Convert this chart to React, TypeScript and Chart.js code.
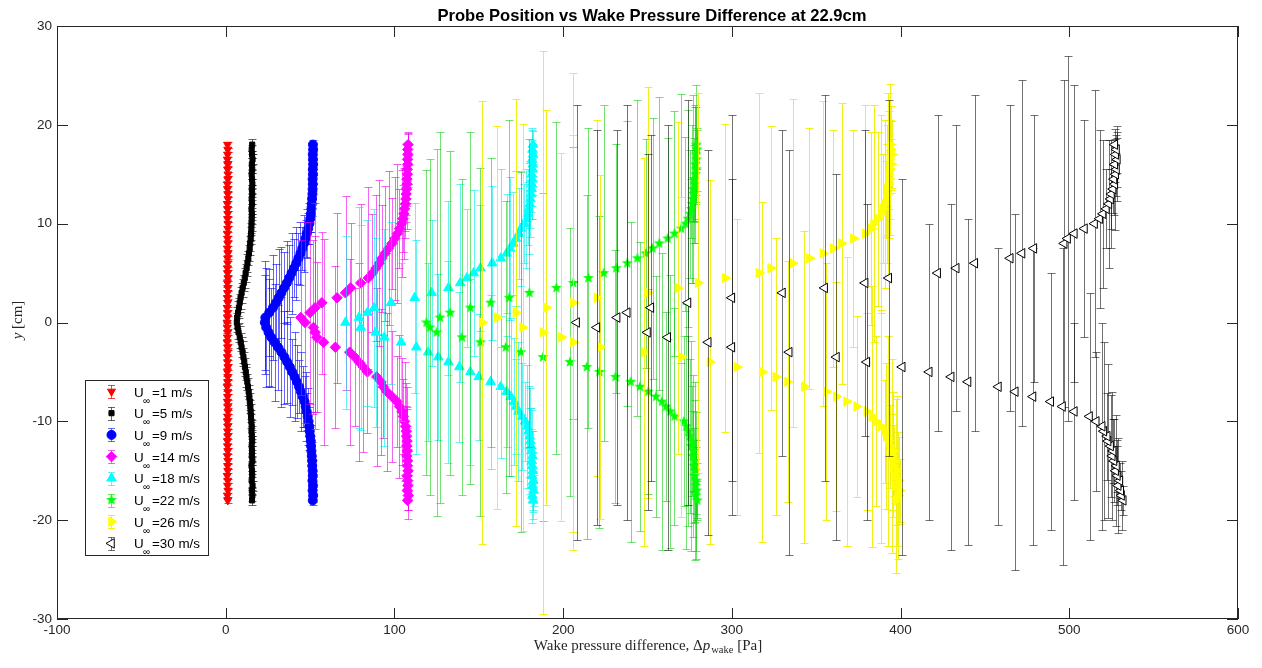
import React, { useEffect, useRef } from 'react';
import { Chart, registerables } from 'chart.js';
import { drawPoint } from 'chart.js/helpers';

Chart.register(...registerables);

// ---------------- DATA ----------------
const TITLE = 'Probe Position vs Wake Pressure Difference at 22.9cm';
const X_TICKS = [-100, 0, 100, 200, 300, 400, 500, 600];
const Y_TICKS = [-30, -20, -10, 0, 10, 20, 30];
const SPEEDS = ['1', '5', '9', '14', '18', '22', '26', '30'];

// probe positions y [cm]
const Y_POS = [
  -18, -17.5, -17, -16.5, -16, -15.5, -15, -14.5, -14, -13.5, -13, -12.5, -12, -11.5, -11,
  -10.5, -10, -9.5, -9, -8.5, -8, -7.5, -7, -6.5, -6,
  -5.5, -5, -4.5, -4, -3.5, -3, -2.5, -2, -1.5, -1,
  -0.5, 0, 0.5, 1, 1.5, 2, 2.5, 3, 3.5, 4,
  4.5, 5, 5.5, 6, 6.5, 7, 7.5, 8, 8.5, 9,
  9.5, 10, 10.5,
  11, 11.5, 12, 12.5, 13, 13.5, 14, 14.5, 15, 15.5, 16, 16.5, 17, 17.5, 18,
];

// wake pressure difference [Pa] per speed
const DP_1 = [
  1.2, 1.0, 1.3, 1.1, 1.2, 0.9, 1.2, 1.1, 1.3, 1.0, 1.2, 1.1, 1.0, 1.2, 1.1,
  1.2, 1.0, 1.1, 1.3, 1.2, 1.0, 1.1, 1.2, 0.9, 1.1,
  1.2, 1.0, 1.3, 1.1, 1.0, 1.2, 1.1, 0.9, 1.0, 1.1,
  0.9, 0.8, 1.0, 1.1, 0.9, 1.2, 1.0, 1.1, 1.2, 1.0,
  1.3, 1.1, 1.0, 1.2, 1.1, 1.3, 1.0, 1.2, 1.1, 1.0,
  1.2, 1.3, 1.1,
  1.2, 1.1, 1.0, 1.3, 1.2, 1.1, 1.0, 1.2, 1.3, 1.1, 1.2, 1.0, 1.1, 1.2, 1.1,
];
const DP_5 = [
  15.6, 15.8, 15.5, 15.9, 15.4, 15.7, 15.6, 15.3, 15.8, 15.5, 15.6, 15.4, 15.7, 15.5, 15.3,
  15.4, 15.2, 15.0, 14.8, 14.6, 14.3, 14.0, 13.6, 13.2, 12.8,
  12.3, 11.9, 11.4, 11.0, 10.5, 10.0, 9.4, 8.9, 8.3, 7.6,
  7.0, 6.6, 6.8, 7.3, 7.8, 8.3, 8.8, 9.4, 10.0, 10.7,
  11.3, 11.8, 12.4, 12.9, 13.4, 13.8, 14.2, 14.5, 14.8, 15.0,
  15.2, 15.3, 15.4,
  15.5, 15.3, 15.6, 15.4, 15.7, 15.5, 15.8, 15.6, 15.4, 15.7, 15.5, 15.9, 15.6, 15.4, 15.7,
];
const DP_9 = [
  51.6, 51.8, 51.5, 51.7, 51.4, 51.6, 51.5, 51.3, 51.2, 51.0, 50.8, 50.6, 50.4, 50.1, 49.8,
  49.5, 49.1, 48.6, 48.0, 47.4, 46.7, 45.6, 44.6, 43.5, 42.2,
  40.8, 39.4, 38.0, 36.4, 34.8, 33.0, 31.0, 29.0, 27.0, 25.4,
  24.0, 23.2, 23.5, 25.8, 28.0, 29.8, 31.4, 33.0, 34.6, 36.2,
  37.6, 39.0, 40.4, 41.8, 43.1, 44.3, 45.4, 46.4, 47.3, 48.1,
  48.9, 49.6, 50.1,
  50.5, 50.8, 51.0, 51.2, 51.4, 51.5, 51.6, 51.5, 51.7, 51.6, 51.8, 51.7, 51.6, 51.8, 51.7,
];
const DP_14 = [
  107.8, 108.2, 107.6, 108.0, 107.9, 107.5, 108.1, 107.7, 107.8, 107.4, 107.6, 107.3, 107.5, 107.2, 107.0,
  106.6, 106.0, 105.3, 104.5, 103.0, 101.5, 98.6, 95.5, 93.4, 92.0,
  89.5, 84.0, 81.5, 79.0, 76.5, 73.5, 65.0, 58.0, 54.0, 53.0,
  52.0, 47.0, 44.5, 50.0, 53.0, 57.0, 66.0, 71.0, 74.0, 80.0,
  84.5, 87.0, 89.0, 91.0, 92.5, 94.5, 96.5, 98.5, 100.2, 101.8,
  103.0, 104.2, 105.0,
  105.6, 106.0, 106.5, 106.8, 107.0, 107.2, 107.5, 107.4, 107.7, 107.6, 107.9, 107.8, 108.0, 107.9, 108.1,
];
const DP_18 = [
  182.2, 181.8, 182.5, 181.9, 182.3, 181.6, 182.0, 181.7, 181.4, 181.8, 181.2, 181.0, 180.6, 180.2, 179.5,
  178.6, 177.5, 175.8, 173.5, 172.0, 171.0, 169.0, 166.5, 163.0, 157.0,
  150.0, 145.0, 138.5, 132.0, 126.0, 120.0, 113.0, 104.0, 94.0, 89.0,
  80.0, 71.0, 79.0, 84.0, 88.0, 98.0, 112.0, 122.0, 132.0, 139.0,
  143.0, 147.0, 151.0, 158.0, 163.0, 166.5, 168.5, 170.5, 172.0, 173.8,
  175.0, 177.0, 178.2,
  179.0, 179.6, 180.2, 180.6, 181.0, 181.3, 181.5, 181.7, 181.4, 181.9, 182.0, 181.6, 182.2, 181.8, 182.1,
];
const DP_22 = [
  279.5, 278.8, 279.2, 278.5, 279.0, 277.8, 278.3, 277.5, 277.9, 276.8, 277.2, 275.9, 276.3, 275.0, 274.2,
  273.0, 271.5, 266.0, 263.5, 261.0, 258.5, 255.0, 250.5, 245.5, 240.0,
  231.0, 221.5, 214.0, 204.0, 188.0, 175.0, 166.0, 151.0, 140.0, 125.0,
  121.0, 119.0, 127.0, 133.0, 145.0, 157.0, 168.0, 180.0, 196.0, 206.0,
  215.0, 224.0, 231.5, 238.0, 244.0, 249.0, 253.0, 257.0, 262.0, 266.0,
  270.0, 272.5, 274.0,
  275.2, 275.9, 276.5, 276.8, 277.4, 277.1, 278.0, 277.6, 278.4, 278.9, 278.2, 279.1, 278.7, 279.4, 279.0,
];
const DP_26 = [
  397.5, 398.5, 399.5, 397.0, 398.8, 396.5, 397.8, 395.5, 396.2, 394.8, 395.5, 393.5, 392.8, 391.5, 390.5,
  388.5, 385.5, 383.0, 380.0, 374.0, 368.0, 362.0, 356.0, 343.0, 333.0,
  326.0, 318.0, 303.0, 287.0, 270.0, 248.0, 222.0, 206.0, 199.0, 188.0,
  176.0, 152.0, 161.0, 172.0, 190.0, 206.0, 220.0, 250.0, 268.0, 280.0,
  296.0, 316.0, 323.0, 336.0, 346.0, 354.0, 360.0, 365.0, 372.0, 379.0,
  382.5, 384.0, 386.5,
  388.5, 389.8, 390.6, 391.5, 392.2, 391.8, 392.8, 393.4, 392.9, 393.8, 394.5, 393.6, 394.9, 394.2, 393.8,
];
const DP_30 = [
  532.0, 531.0, 530.5, 529.0, 530.0, 528.5, 527.5, 528.0, 526.5, 525.5, 526.0, 524.5, 523.0, 522.5, 520.5,
  519.5, 516.0, 512.0, 503.0, 496.0, 489.0, 478.5, 468.0, 458.0, 440.0,
  430.0, 417.0, 401.0, 380.0, 362.0, 334.0, 300.0, 286.0, 262.0, 250.0,
  220.0, 208.0, 232.0, 238.0, 252.0, 274.0, 300.0, 330.0, 355.0, 379.0,
  393.0, 422.0, 433.0, 444.0, 465.0, 472.0, 479.0, 497.0, 499.0, 503.0,
  509.0, 515.0, 518.0,
  520.0, 522.0, 523.5, 524.5, 525.0, 526.0, 527.0, 526.5, 527.5, 528.0, 527.0, 528.5, 527.5, 528.0, 527.0,
];

// error bar half-lengths in y [cm]
const ERR_1 = [
  0.3, 0.2, 0.3, 0.3, 0.2, 0.3, 0.2, 0.3, 0.3, 0.2, 0.3, 0.2, 0.3, 0.3, 0.2,
  0.3, 0.3, 0.2, 0.3, 0.4, 0.3, 0.3, 0.2, 0.4, 0.3,
  0.3, 0.4, 0.3, 0.2, 0.3, 0.4, 0.3, 0.3, 0.4, 0.3,
  0.4, 0.3, 0.4, 0.3, 0.3, 0.4, 0.2, 0.3, 0.3, 0.4,
  0.3, 0.3, 0.2, 0.4, 0.3, 0.3, 0.2, 0.3, 0.3, 0.2,
  0.3, 0.2, 0.3,
  0.3, 0.2, 0.3, 0.2, 0.3, 0.3, 0.2, 0.3, 0.2, 0.3, 0.3, 0.2, 0.3, 0.2, 0.3,
];
const ERR_5 = [
  0.5, 0.6, 0.4, 0.5, 0.7, 0.5, 0.6, 0.5, 0.4, 0.6, 0.5, 0.7, 0.5, 0.6, 0.5,
  0.6, 0.7, 0.6, 0.8, 0.7, 0.9, 0.8, 0.7, 0.9, 0.8,
  1.0, 0.8, 0.9, 1.0, 0.9, 1.1, 1.0, 0.9, 1.1, 1.0,
  1.2, 1.0, 1.1, 1.2, 1.0, 0.9, 1.1, 1.0, 0.9, 0.8,
  1.0, 0.9, 0.8, 0.9, 0.7, 0.8, 0.7, 0.8, 0.6, 0.7,
  0.6, 0.7, 0.5,
  0.6, 0.5, 0.7, 0.5, 0.6, 0.4, 0.5, 0.6, 0.5, 0.4, 0.6, 0.5, 0.4, 0.5, 0.6,
];
const ERR_9 = [
  0.5, 0.7, 0.4, 0.9, 0.6, 0.5, 1.1, 0.7, 0.5, 1.4, 0.8, 1.0, 1.6, 0.9, 1.9,
  2.4, 1.5, 2.9, 1.9, 3.5, 2.6, 3.1, 4.0, 2.7, 3.7,
  4.5, 3.3, 5.1, 4.1, 4.7, 5.6, 4.3, 5.9, 5.0, 5.4,
  6.0, 4.8, 5.7, 4.4, 5.3, 3.9, 4.9, 4.6, 3.6, 4.2,
  3.3, 4.1, 2.9, 3.7, 2.6, 3.2, 2.2, 2.9, 1.9, 2.5,
  1.6, 2.1, 1.3,
  1.8, 0.6, 1.2, 0.9, 0.5, 1.4, 0.7, 0.4, 1.0, 0.6, 0.5, 0.8, 0.4, 0.6, 0.5,
];
const ERR_14 = [
  1.0, 2.4, 0.8, 1.6, 3.0, 1.2, 2.2, 3.6, 1.5, 2.8, 4.2, 2.0, 3.4, 5.0, 2.6,
  4.4, 6.0, 3.8, 5.4, 7.2, 4.6, 6.6, 8.0, 5.2, 7.4,
  9.0, 6.2, 8.6, 10.0, 7.0, 9.4, 8.2, 10.4, 7.6, 9.8,
  8.8, 10.2, 7.8, 9.2, 10.6, 7.2, 8.6, 9.8, 6.6, 8.0,
  9.2, 6.0, 7.4, 8.4, 5.4, 6.8, 7.8, 4.6, 6.2, 7.0,
  4.0, 5.4, 3.4,
  4.6, 2.2, 3.4, 1.6, 2.8, 4.0, 1.4, 2.4, 3.2, 1.2, 2.0, 2.8, 1.0, 1.6, 1.2,
];
const ERR_18 = [
  1.2, 2.8, 1.6, 3.4, 1.0, 2.4, 4.0, 1.8, 3.0, 4.6, 2.2, 3.8, 5.4, 2.8, 4.6,
  6.2, 4.0, 5.4, 7.0, 4.8, 6.4, 8.0, 5.6, 7.2, 8.8,
  6.4, 9.4, 7.6, 10.2, 8.4, 9.0, 10.8, 8.0, 11.0, 9.6,
  10.4, 8.8, 11.2, 9.4, 10.0, 8.2, 9.6, 7.4, 8.8, 10.0,
  7.0, 8.4, 6.4, 7.8, 9.0, 6.0, 7.2, 5.2, 6.8, 4.6,
  5.8, 4.0, 5.0,
  3.2, 4.6, 2.4, 3.8, 1.8, 3.0, 2.2, 4.0, 1.5, 2.6, 1.2, 3.2, 1.0, 2.0, 1.4,
];
const ERR_22 = [
  2.0, 5.6, 2.8, 7.4, 3.4, 4.8, 9.0, 2.6, 6.2, 8.2, 4.0, 10.6, 5.6, 7.8, 9.6,
  12.4, 8.6, 11.0, 13.8, 9.6, 15.0, 12.2, 10.4, 14.6, 16.2,
  12.8, 15.8, 17.4, 13.6, 16.6, 18.2, 14.8, 17.6, 16.0, 18.6,
  17.0, 15.4, 18.8, 16.4, 17.8, 14.6, 18.0, 15.6, 16.8, 13.8,
  15.2, 17.0, 12.6, 14.4, 16.0, 11.6, 13.2, 14.8, 10.2, 12.4,
  13.6, 8.8, 11.0,
  6.5, 3.0, 8.0, 2.2, 5.0, 9.5, 3.5, 4.2, 7.0, 2.6, 5.8, 3.2, 4.8, 2.0, 6.0,
];
const ERR_26 = [
  2.5, 6.4, 3.2, 8.8, 4.4, 2.8, 7.6, 5.2, 3.6, 9.8, 6.0, 4.2, 10.6, 7.4, 5.2,
  11.8, 8.6, 13.2, 10.0, 9.2, 14.6, 11.6, 13.0, 15.8, 12.2,
  14.0, 17.2, 15.0, 18.4, 16.2, 19.6, 17.4, 21.0, 18.6, 28.5,
  20.6, 22.4, 19.4, 21.6, 20.0, 23.2, 18.0, 20.8, 16.8, 19.2,
  15.6, 18.2, 14.4, 16.6, 13.2, 15.4, 12.0, 14.2, 11.0, 13.0,
  9.8, 12.0, 8.8,
  10.0, 5.5, 8.5, 3.8, 7.0, 4.6, 9.2, 3.0, 6.4, 5.0, 2.6, 7.6, 3.4, 4.4, 2.5,
];
const ERR_30 = [
  1.5, 3.5, 2.0, 4.8, 1.8, 3.0, 5.6, 2.6, 4.2, 6.5, 3.2, 5.2, 7.8, 4.4, 9.0,
  10.5, 7.0, 12.5, 9.0, 16.0, 13.0, 15.0, 18.0, 14.0, 16.5,
  17.5, 15.0, 19.0, 16.0, 18.5, 20.5, 17.0, 19.5, 21.5, 18.0,
  20.0, 22.0, 19.0, 21.0, 17.5, 20.5, 18.5, 16.5, 19.5, 15.5,
  18.0, 16.0, 14.5, 17.0, 15.5, 17.5, 13.5, 16.5, 18.5, 15.0,
  11.0, 13.5, 9.0,
  7.5, 4.0, 6.5, 3.0, 5.5, 2.4, 4.6, 3.6, 2.2, 3.2, 1.8, 2.8, 2.0, 2.4, 1.6,
];

const DP_SERIES = [DP_1, DP_5, DP_9, DP_14, DP_18, DP_22, DP_26, DP_30];
const ERR_SERIES = [ERR_1, ERR_5, ERR_9, ERR_14, ERR_18, ERR_22, ERR_26, ERR_30];

// ---------------- STYLE ----------------
const W = 1262;
const H = 668;
const SANS = '"Liberation Sans", Arial, Helvetica, sans-serif';
const SERIF = '"Liberation Serif", "Times New Roman", serif';
const AXIS_COLOR = '#262626';

const FILL = ['#ff0000', '#000000', '#0000ff', '#ff00ff', '#00ffff', '#00ff00', '#ffff00', '#ffffff'];
const EDGE = ['#ff0000', '#000000', '#0000ff', '#ff00ff', '#00ffff', '#00ff00', '#ffff00', '#000000'];
const BAR = [
  'rgba(255,0,0,0.75)',
  'rgba(0,0,0,0.6)',
  'rgba(0,0,255,0.6)',
  'rgba(235,0,235,0.6)',
  'rgba(0,235,235,0.6)',
  'rgba(0,200,0,0.55)',
  'rgba(240,240,0,0.9)',
  'rgba(0,0,0,0.55)',
];
const SHAPE = ['triangle', 'rect', 'circle', 'rectRot', 'triangle', 'star', 'triangle', 'triangle'];
const ROT = [180, 0, 0, 0, 0, 0, 90, 270];
const RAD = [4.6, 3.6, 4.5, 5.2, 5.5, 5, 5.5, 5.5];

function makeStar(color: string) {
  const c = document.createElement('canvas');
  c.width = 12;
  c.height = 12;
  const g = c.getContext('2d')!;
  g.fillStyle = color;
  g.beginPath();
  for (let k = 0; k < 10; k++) {
    const r = k % 2 === 0 ? 5.8 : 2.4;
    const a = -Math.PI / 2 + (k * Math.PI) / 5;
    g.lineTo(6 + r * Math.cos(a), 6 + r * Math.sin(a));
  }
  g.closePath();
  g.fill();
  return c;
}

function drawMarker(ctx: CanvasRenderingContext2D, i: number, style: any, x: number, y: number) {
  ctx.save();
  ctx.fillStyle = FILL[i];
  ctx.strokeStyle = EDGE[i];
  ctx.lineWidth = 1;
  drawPoint(ctx, { pointStyle: style, rotation: ROT[i], radius: RAD[i], borderWidth: 1 } as any, x, y);
  ctx.restore();
}

export default function App() {
  const ref = useRef<HTMLCanvasElement>(null);

  useEffect(() => {
    document.body.style.margin = '0';
    const canvas = ref.current!;
    const star = makeStar('#00ff00');
    const styles: any[] = SHAPE.map((s) => (s === 'star' ? star : s));

    const datasets = DP_SERIES.map((dp, i) => ({
      label: `U∞=${SPEEDS[i]} m/s`,
      data: Y_POS.map((y, k) => ({ x: dp[k], y })),
      pointStyle: styles[i],
      pointRadius: RAD[i],
      pointHoverRadius: RAD[i],
      pointRotation: ROT[i],
      pointBackgroundColor: FILL[i],
      pointBorderColor: EDGE[i],
      pointBorderWidth: 1,
      showLine: false,
      order: DP_SERIES.length - i,
    }));

    const decor = {
      id: 'matlabDecor',
      beforeDatasetDraw(chart: any, args: any) {
        const idx = args.index;
        const meta = args.meta;
        const errs = ERR_SERIES[idx];
        const ys = chart.scales.y;
        const area = chart.chartArea;
        const ctx: CanvasRenderingContext2D = chart.ctx;
        ctx.save();
        ctx.beginPath();
        ctx.rect(area.left, area.top, area.right - area.left, area.bottom - area.top);
        ctx.clip();
        ctx.strokeStyle = BAR[idx];
        ctx.lineWidth = 1;
        ctx.beginPath();
        meta.data.forEach((el: any, k: number) => {
          const yv = Y_POS[k];
          const e = errs[k] ?? 0;
          const x = Math.round(el.x) + 0.5;
          const top = Math.round(ys.getPixelForValue(yv + e)) + 0.5;
          const bot = Math.round(ys.getPixelForValue(yv - e)) + 0.5;
          ctx.moveTo(x, top);
          ctx.lineTo(x, bot);
          ctx.moveTo(x - 4, top);
          ctx.lineTo(x + 4, top);
          ctx.moveTo(x - 4, bot);
          ctx.lineTo(x + 4, bot);
        });
        ctx.stroke();
        ctx.restore();
      },
      afterDraw(chart: any) {
        const ctx: CanvasRenderingContext2D = chart.ctx;
        const a = chart.chartArea;
        const xs = chart.scales.x;
        const ys = chart.scales.y;
        ctx.save();
        // box
        ctx.strokeStyle = AXIS_COLOR;
        ctx.lineWidth = 1;
        ctx.strokeRect(a.left + 0.5, a.top + 0.5, a.right - a.left - 1, a.bottom - a.top - 1);
        // inward ticks
        const TL = 11;
        ctx.beginPath();
        X_TICKS.forEach((v) => {
          const px = Math.round(xs.getPixelForValue(v)) + 0.5;
          ctx.moveTo(px, a.bottom);
          ctx.lineTo(px, a.bottom - TL);
          ctx.moveTo(px, a.top);
          ctx.lineTo(px, a.top + TL);
        });
        Y_TICKS.forEach((v) => {
          const py = Math.round(ys.getPixelForValue(v)) + 0.5;
          ctx.moveTo(a.left, py);
          ctx.lineTo(a.left + TL, py);
          ctx.moveTo(a.right, py);
          ctx.lineTo(a.right - TL, py);
        });
        ctx.stroke();

        // title
        ctx.fillStyle = '#000';
        ctx.font = `bold 16.6px ${SANS}`;
        ctx.textAlign = 'center';
        ctx.textBaseline = 'alphabetic';
        ctx.fillText(TITLE, 652, 20.5);

        // x label
        ctx.fillStyle = AXIS_COLOR;
        const part1 = 'Wake pressure difference, Δ';
        const part2 = 'p';
        const part3 = 'wake';
        const part4 = ' [Pa]';
        const fMain = `15px ${SERIF}`;
        const fIt = `italic 15px ${SERIF}`;
        const fSub = `10.5px ${SERIF}`;
        ctx.font = fMain;
        const w1 = ctx.measureText(part1).width;
        const w4 = ctx.measureText(part4).width;
        ctx.font = fIt;
        const w2 = ctx.measureText(part2).width;
        ctx.font = fSub;
        const w3 = ctx.measureText(part3).width;
        const total = w1 + w2 + w3 + w4 + 1;
        let cx = 648 - total / 2;
        const by = 650;
        ctx.textAlign = 'left';
        ctx.font = fMain;
        ctx.fillText(part1, cx, by);
        cx += w1;
        ctx.font = fIt;
        ctx.fillText(part2, cx, by);
        cx += w2 + 1;
        ctx.font = fSub;
        ctx.fillText(part3, cx, by + 3);
        cx += w3;
        ctx.font = fMain;
        ctx.fillText(part4, cx, by);

        // y label
        ctx.save();
        ctx.translate(22, 320);
        ctx.rotate(-Math.PI / 2);
        ctx.font = fIt;
        const wy = ctx.measureText('y').width;
        ctx.font = fMain;
        const wr = ctx.measureText(' [cm]').width;
        let ly = -(wy + wr) / 2;
        ctx.font = fIt;
        ctx.fillText('y', ly, 0);
        ly += wy;
        ctx.font = fMain;
        ctx.fillText(' [cm]', ly, 0);
        ctx.restore();

        // legend
        const LX = 85, LY = 380, LW = 123, LH = 175;
        ctx.fillStyle = '#ffffff';
        ctx.fillRect(LX, LY, LW, LH);
        ctx.strokeStyle = AXIS_COLOR;
        ctx.lineWidth = 1;
        ctx.strokeRect(LX + 0.5, LY + 0.5, LW, LH);
        for (let i = 0; i < SPEEDS.length; i++) {
          const yc = 391.5 + i * 21.7;
          const mx = 111.5;
          ctx.strokeStyle = BAR[i];
          ctx.beginPath();
          ctx.moveTo(mx, Math.round(yc - 6.5) + 0.5);
          ctx.lineTo(mx, Math.round(yc + 6.5) + 0.5);
          ctx.moveTo(mx - 3.5, Math.round(yc - 6.5) + 0.5);
          ctx.lineTo(mx + 3.5, Math.round(yc - 6.5) + 0.5);
          ctx.moveTo(mx - 3.5, Math.round(yc + 6.5) + 0.5);
          ctx.lineTo(mx + 3.5, Math.round(yc + 6.5) + 0.5);
          ctx.stroke();
          drawMarker(ctx, i, styles[i], mx, yc);
          ctx.fillStyle = '#000';
          ctx.textAlign = 'left';
          ctx.font = `13.4px ${SANS}`;
          ctx.fillText('U', 134, yc + 5);
          ctx.font = `10px ${SANS}`;
          ctx.fillText('∞', 143, yc + 12);
          ctx.font = `13.4px ${SANS}`;
          ctx.fillText(`=${SPEEDS[i]} m/s`, 152, yc + 5);
        }
        ctx.restore();
      },
    };

    const chart = new Chart(canvas, {
      type: 'scatter',
      data: { datasets: datasets as any },
      options: {
        animation: false,
        responsive: false,
        devicePixelRatio: 1,
        events: [],
        layout: { padding: { top: 26, right: 24, left: 0, bottom: 0 } },
        plugins: {
          legend: { display: false },
          tooltip: { enabled: false },
          title: { display: false },
        },
        scales: {
          x: {
            type: 'linear',
            min: -100,
            max: 600,
            afterBuildTicks: (s: any) => {
              s.ticks = X_TICKS.map((v) => ({ value: v }));
            },
            afterFit: (s: any) => {
              s.height = 49;
            },
            grid: { display: false, drawTicks: false },
            border: { display: false },
            ticks: {
              color: AXIS_COLOR,
              font: { family: SANS, size: 13.5 },
              padding: 3,
              maxRotation: 0,
              autoSkip: false,
              callback: (v: any) => String(v),
            },
          },
          y: {
            type: 'linear',
            min: -30,
            max: 30,
            afterBuildTicks: (s: any) => {
              s.ticks = Y_TICKS.map((v) => ({ value: v }));
            },
            afterFit: (s: any) => {
              s.width = 57;
            },
            grid: { display: false, drawTicks: false },
            border: { display: false },
            ticks: {
              color: AXIS_COLOR,
              font: { family: SANS, size: 13.5 },
              padding: 5,
              autoSkip: false,
              callback: (v: any) => String(v),
            },
          },
        },
      },
      plugins: [decor],
    });

    return () => chart.destroy();
  }, []);

  return (
    <div style={{ width: W, height: H, position: 'relative', background: '#fff' }}>
      <canvas ref={ref} width={W} height={H} style={{ display: 'block', width: W, height: H }} />
    </div>
  );
}
